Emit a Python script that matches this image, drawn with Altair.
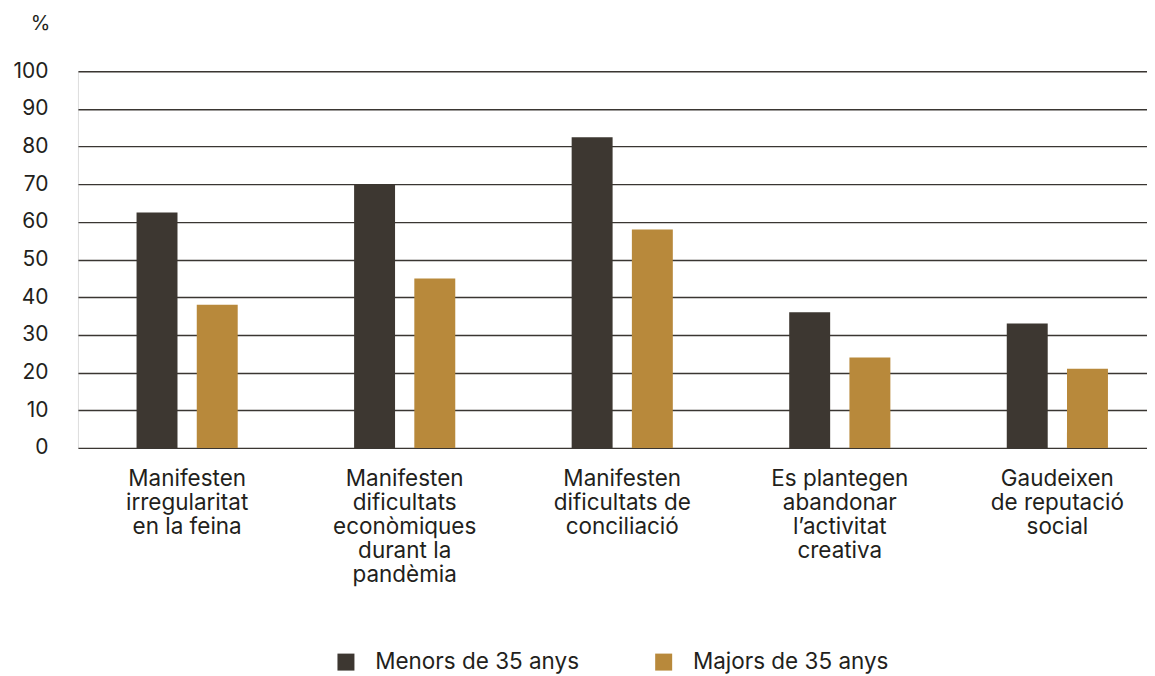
import altair as alt
import pandas as pd

categories = [
    "Manifesten|irregularitat|en la feina",
    "Manifesten|dificultats|econòmiques|durant la|pandèmia",
    "Manifesten|dificultats de|conciliació",
    "Es plantegen|abandonar|l’activitat|creativa",
    "Gaudeixen|de reputació|social",
]
series = ["Menors de 35 anys", "Majors de 35 anys"]
menors = [62.5, 70.0, 82.5, 36.0, 33.0]
majors = [38.0, 45.0, 58.0, 24.0, 21.0]
y_ticks = [0, 10, 20, 30, 40, 50, 60, 70, 80, 90, 100]
colors = ["#3d3731", "#b8893b"]

rows = []
for c, a, b in zip(categories, menors, majors):
    rows.append({"cat": c, "grup": series[0], "valor": a})
    rows.append({"cat": c, "grup": series[1], "valor": b})
df = pd.DataFrame(rows)

FONT = "Inter"
TXT = "#231f1c"

chart = alt.Chart(df).mark_bar().encode(
    x=alt.X("cat:N", sort=categories,
            scale=alt.Scale(paddingInner=0.535, paddingOuter=0.2245, align=0.6),
            axis=alt.Axis(title=None, labelAngle=0, domain=False, ticks=False,
                          labelExpr="split(datum.label, '|')",
                          labelFontSize=22.5, labelLineHeight=24, labelPadding=20,
                          labelFont=FONT, labelColor=TXT, labelBaseline="top",
                          labelLimit=300)),
    xOffset=alt.XOffset("grup:N", sort=series,
                        scale=alt.Scale(paddingInner=0.32, paddingOuter=0)),
    y=alt.Y("valor:Q", scale=alt.Scale(domain=[0, 100], nice=False),
            axis=alt.Axis(title="%", titleAngle=0, titleX=-38, titleY=-48,
                          titleAlign="center", titleBaseline="middle",
                          titleFontSize=20, titleFontWeight="normal",
                          titleFont=FONT, titleColor=TXT,
                          values=y_ticks, domain=False, ticks=False,
                          labelPadding=30, labelFontSize=21, labelFont=FONT,
                          labelColor=TXT, grid=True, gridColor="#3a3632",
                          gridWidth=1.4, gridOpacity=1)),
    color=alt.Color("grup:N", sort=series,
                    scale=alt.Scale(domain=series, range=colors),
                    legend=alt.Legend(title=None, orient="none", direction="horizontal",
                                      legendX=257, legendY=580, symbolType="square",
                                      symbolSize=289, symbolStrokeWidth=0,
                                      symbolOpacity=1, labelFontSize=22.5,
                                      labelFont=FONT, labelColor=TXT,
                                      labelOffset=18, columnPadding=73,
                                      padding=0, labelLimit=400)),
).properties(
    width=1070, height=377,
    padding={"left": 4, "top": 5, "right": 0, "bottom": 0},
).configure_view(stroke=None).configure(background="white")

chart.save("out.html", embed_options={"renderer": "svg", "actions": False})
